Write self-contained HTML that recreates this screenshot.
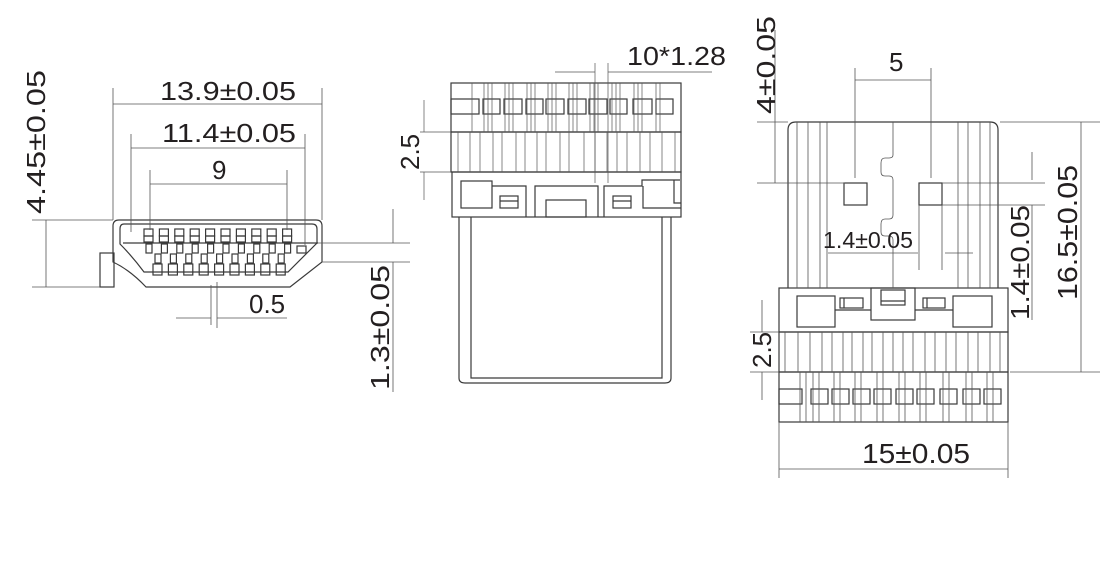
<!DOCTYPE html>
<html><head><meta charset="utf-8"><style>
html,body{margin:0;padding:0;background:#fff;}
svg{display:block;}
text{font-family:"Liberation Sans",sans-serif;fill:#231f20;}
</style></head><body>
<svg width="1120" height="562" viewBox="0 0 1120 562" xmlns="http://www.w3.org/2000/svg">
<g fill="none" stroke="#3a3a3a" stroke-width="1.2">
<!-- LEFT VIEW -->
<rect x="100" y="253" width="14" height="34"/>
<path d="M119 220 H316 Q322 220 322 226 V262 L290 287 H146 Q130 270 113 262 V226 Q113 220 119 220 Z"/>
<path d="M124 224 H312 Q317 224 317 229 V243 L288 272 H144 Q132 256 120 244 V229 Q120 224 124 224"/>
<path d="M123 243 H318"/>
<g id="tp">
<rect x="144" y="229" width="9" height="7"/><rect x="144" y="236" width="9" height="6"/><rect x="146" y="244" width="6" height="9"/>
</g>
<use href="#tp" x="15.4"/><use href="#tp" x="30.8"/><use href="#tp" x="46.2"/><use href="#tp" x="61.6"/><use href="#tp" x="77"/><use href="#tp" x="92.4"/><use href="#tp" x="107.8"/><use href="#tp" x="123.2"/><use href="#tp" x="138.6"/>
<g id="bp">
<rect x="155" y="254" width="6" height="9"/><rect x="153" y="264" width="9" height="11"/>
</g>
<use href="#bp" x="15.4"/><use href="#bp" x="30.8"/><use href="#bp" x="46.2"/><use href="#bp" x="61.6"/><use href="#bp" x="77"/><use href="#bp" x="92.4"/><use href="#bp" x="107.8"/><use href="#bp" x="123.2"/>
<rect x="297" y="246" width="9" height="7"/>
</g>
<g fill="none" stroke="#555" stroke-width="0.8">
<path d="M113 88 V220 M322 88 V220 M113 104 H322"/>
<path d="M131 134 V232 M305 134 V245 M131 148 H305"/>
<path d="M150 170 V230 M287 170 V230 M150 184 H287"/>
<path d="M32 220 H113 M32 287 H100 M46 220 V287"/>
<path d="M211 285 V325 M217 282 V328 M176 318 H211 M217 318 H287"/>
<path d="M318 243 H410 M322 262 H410 M393 209 V243 M393 262 V392"/>
</g>
<text x="160" y="100" font-size="26" textLength="136" lengthAdjust="spacingAndGlyphs">13.9±0.05</text>
<text x="162" y="142" font-size="26" textLength="134" lengthAdjust="spacingAndGlyphs">11.4±0.05</text>
<text x="212" y="179" font-size="26">9</text>
<text x="249" y="313" font-size="26">0.5</text>
<text transform="translate(45,214) rotate(-90)" font-size="26" textLength="144" lengthAdjust="spacingAndGlyphs">4.45±0.05</text>
<text transform="translate(389,390) rotate(-90)" font-size="26" textLength="125" lengthAdjust="spacingAndGlyphs">1.3±0.05</text>

<!-- MIDDLE VIEW -->
<g fill="none" stroke="#3a3a3a" stroke-width="1.2">
<rect x="451" y="83" width="230" height="49"/>
<rect x="451" y="132" width="230" height="40"/>
<rect x="452" y="172" width="229" height="45"/>
<rect x="451" y="99" width="28" height="15"/>
<rect x="483" y="99" width="17" height="15"/><rect x="504" y="99" width="18" height="15"/><rect x="526" y="99" width="17" height="15"/><rect x="546" y="99" width="18" height="15"/><rect x="568" y="99" width="18" height="15"/><rect x="589" y="99" width="18" height="15"/><rect x="610" y="99" width="17" height="15"/><rect x="633" y="99" width="19" height="15"/><rect x="656" y="99" width="17" height="15"/>
<rect x="461" y="181" width="31" height="27"/>
<path d="M492 186 H526 V217 M535 217 V186 H598 V217 M604 217 V186 H642 V180 H680"/>
<rect x="546" y="200" width="40" height="17"/>
<rect x="500" y="196" width="18" height="12"/><path d="M500 201 H518"/>
<rect x="613" y="196" width="18" height="12"/><path d="M613 201 H631"/>
<path d="M643 186 V208 H681 M674 180 V203 H681"/>
<path d="M459 217 V378 Q459 383 465 383 H665 Q671 383 671 378 V217 M471 217 V378 H662 V217"/>
</g>
<g stroke="#555" stroke-width="0.7">
<path d="M472 83 V132 M484 83 V132 M488 83 V132 M492 83 V132 M505 83 V132 M509 83 V132 M513 83 V132 M527 83 V132 M531 83 V132 M535 83 V132 M548 83 V132 M552 83 V132 M556 83 V132 M569 83 V132 M573 83 V132 M577 83 V132 M590 83 V132 M594 83 V132 M598 83 V132 M612 83 V132 M616 83 V132 M620 83 V132 M634 83 V132 M638 83 V132 M642 83 V132 M656 83 V132 M660 83 V132"/>
<path d="M458 132 V172 M470 132 V172 M480 132 V172 M493 132 V172 M502 132 V172 M516 132 V172 M525 132 V172 M537 132 V172 M546 132 V172 M560 132 V172 M569 132 V172 M584 132 V172 M595 132 V172 M607 132 V172 M617 132 V172 M627 132 V172 M640 132 V172 M650 132 V172 M662 132 V172 M675 132 V172"/>
<path d="M595 63 V183 M608 63 V183 M555 72 H595 M608 72 H712"/>
<path d="M420 132 H451 M420 172 H451 M424 100 V132 M424 172 V200"/>
</g>
<text x="627" y="65" font-size="26" textLength="99" lengthAdjust="spacingAndGlyphs">10*1.28</text>
<text transform="translate(419,170) rotate(-90)" font-size="26">2.5</text>

<!-- RIGHT VIEW -->
<g fill="none" stroke="#3a3a3a" stroke-width="1.2">
<path d="M788 288 V130 Q788 122 796 122 H990 Q998 122 998 130 V288"/>
<rect x="779" y="288" width="229" height="44"/>
<rect x="779" y="332" width="229" height="40"/>
<rect x="779" y="372" width="229" height="50"/>
<rect x="844" y="183" width="23" height="22"/>
<rect x="919" y="183" width="23" height="22"/>
<rect x="797" y="296" width="38" height="31"/>
<rect x="953" y="296" width="39" height="31"/>
<rect x="871" y="288" width="44" height="32"/>
<rect x="881" y="290" width="24" height="15"/><path d="M881 301 H905"/>
<rect x="840" y="298" width="23" height="10"/><path d="M844 298 V308"/>
<rect x="923" y="298" width="22" height="10"/><path d="M927 298 V308"/>
<path d="M835 310 H871 M915 310 H953"/>
<rect x="779" y="389" width="23" height="15"/>
<rect x="811" y="389" width="17" height="15"/><rect x="832" y="389" width="17" height="15"/><rect x="853" y="389" width="17" height="15"/><rect x="874" y="389" width="17" height="15"/><rect x="896" y="389" width="17" height="15"/><rect x="917" y="389" width="17" height="15"/><rect x="940" y="389" width="17" height="15"/><rect x="963" y="389" width="17" height="15"/><rect x="984" y="389" width="17" height="15"/>
</g>
<g fill="none" stroke="#555" stroke-width="0.8">
<path d="M797 122 V288 M808 122 V288 M820 122 V288 M827 122 V288 M958 122 V288 M968 122 V288 M980 122 V288 M990 122 V288"/>
<path d="M893 122 V155 Q893 158 889 158 H885 Q881 158 881 163 V172 Q881 176 885 176 H889 Q893 176 893 180 V215 Q893 219 889 219 H885 Q881 219 881 224 V232 Q881 236 885 236 H889 Q893 236 893 240 V288"/>
<path d="M785 332 V372 M798 332 V372 M810 332 V372 M822 332 V372 M832 332 V372 M843 332 V372 M852 332 V372 M863 332 V372 M872 332 V372 M883 332 V372 M893 332 V372 M903 332 V372 M913 332 V372 M925 332 V372 M935 332 V372 M946 332 V372 M956 332 V372 M968 332 V372 M978 332 V372 M990 332 V372 M1000 332 V372"/>
<path d="M800 372 V422 M806 372 V422 M813 372 V422 M819 372 V422 M834 372 V422 M840 372 V422 M855 372 V422 M861 372 V422 M877 372 V422 M883 372 V422 M899 372 V422 M905 372 V422 M920 372 V422 M926 372 V422 M943 372 V422 M949 372 V422 M966 372 V422 M972 372 V422 M987 372 V422 M993 372 V422"/>
<path d="M779 422 V478 M1008 422 V478 M779 469 H1008"/>
<path d="M1000 122 H1100 M1010 372 H1100 M1081 122 V372"/>
<path d="M757 122 H788 M757 183 H845 M775 122 V183 M775 30 V122"/>
<path d="M855 68 V178 M931 68 V178 M855 80 H931"/>
<path d="M919 205 V270 M942 205 V270 M828 253 H918 M945 253 H973"/>
<path d="M942 183 H1045 M942 205 H1045 M1032 152 V180 M1032 205 V320"/>
<path d="M750 332 H779 M750 372 H779 M762 300 V332 M762 372 V400"/>
</g>
<text x="862" y="463" font-size="28" textLength="108" lengthAdjust="spacingAndGlyphs">15±0.05</text>
<text x="889" y="71" font-size="26">5</text>
<text x="823" y="248" font-size="23" textLength="90" lengthAdjust="spacingAndGlyphs">1.4±0.05</text>
<text transform="translate(775,114) rotate(-90)" font-size="26" textLength="98" lengthAdjust="spacingAndGlyphs">4±0.05</text>
<text transform="translate(1077,300) rotate(-90)" font-size="28" textLength="135" lengthAdjust="spacingAndGlyphs">16.5±0.05</text>
<text transform="translate(1029,320) rotate(-90)" font-size="26" textLength="115" lengthAdjust="spacingAndGlyphs">1.4±0.05</text>
<text transform="translate(771,368) rotate(-90)" font-size="26">2.5</text>
</svg>
</body></html>
